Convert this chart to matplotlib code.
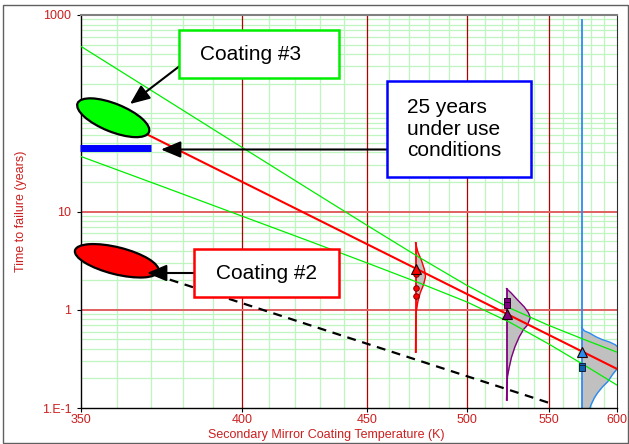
import numpy as np
import matplotlib
matplotlib.use("Agg")
import matplotlib.pyplot as plt
from matplotlib import transforms
from matplotlib.patches import Ellipse, Rectangle
from matplotlib.ticker import FixedLocator, FixedFormatter, NullFormatter

plt.rcParams["font.family"] = ["Liberation Sans", "DejaVu Sans"]

# -------------------------
# data
# -------------------------
x_ticks = [350, 400, 450, 500, 550, 600]
x_tick_labels = ["350", "400", "450", "500", "550", "600"]
y_ticks = [0.1, 1, 10, 1000]
y_tick_labels = ["1.E-1", "1", "10", "1000"]

# Arrhenius fit (red) and its confidence band (green)
fit_temp = [350, 600]
fit_years = [132, 0.25]
band_temp = [350, 375, 400, 425, 450, 475, 500, 525, 550, 575, 600]
band_upper = [479, 136, 45.1, 17.1, 7.25, 3.40, 1.77, 1.04, 0.693, 0.497, 0.370]
band_lower = [36.3, 17.3, 8.99, 5.05, 3.00, 1.87, 1.20, 0.745, 0.448, 0.273, 0.171]

# Coating #2 extrapolation (dashed)
c2_temp = [350, 550]
c2_years = [3.98, 0.113]

# 25 year requirement bar
req_temp = [349.7, 370]
req_years = [44, 44]

# stress levels: median life and failures
stress_temp = [473, 523, 573]
median_years = [2.6, 0.9, 0.37]
fail_473 = [2.32, 1.67, 1.39]
fail_523 = [1.24, 1.12]
fail_573 = [0.27, 0.255]

# life distributions at each stress level (years, density)
pdf_473_years = [4.81, 3.89, 3.23, 2.55, 2.17, 1.80, 1.49, 1.21, 0.95, 0.70, 0.37]
pdf_473_dens = [0, 2.3, 5.7, 9, 10, 8, 4.7, 2.3, 0.7, 0.2, 0]
pdf_523_years = [1.64, 1.49, 1.26, 1.07, 0.93, 0.83, 0.70, 0.63, 0.53, 0.42,
                 0.33, 0.26, 0.21, 0.165, 0.121]
pdf_523_dens = [0, 4.4, 11, 17.7, 22, 23.7, 21, 17, 12.7, 8.4, 5, 2.7, 1, 0.4, 0]
pdf_573_years = [0.66, 0.61, 0.58, 0.53, 0.495, 0.47, 0.44, 0.39, 0.325, 0.27,
                 0.22, 0.185, 0.165, 0.143, 0.127, 0.108, 0.0855, 0.0676]
pdf_573_dens = [0, 2.7, 7.7, 14.4, 21, 27.7, 33.7, 39, 42, 38, 31, 26, 21, 16,
                12.7, 9.4, 6, 3.5]
line_473_years = [4.81, 0.37]
line_523_years = [1.64, 0.121]
line_573_years = [880, 0.05]

# predicted use-condition life of each coating
c3_point = (359, 90)
c2_point = (360, 3.15)

RED_TXT = "#cc1f1f"
GREEN = "#00ee00"

# -------------------------
# figure / axes
# -------------------------
W, H = 629, 444
fig = plt.figure(figsize=(W / 100, H / 100), dpi=100)
ax = fig.add_axes([81 / W, 36 / H, 536 / W, 393 / H])

ax.set_xscale("function", functions=(lambda t: -1.0 / t, lambda u: -1.0 / u))
ax.set_yscale("log")
ax.set_xlim(350, 600)
ax.set_ylim(0.1, 1000)

ax.xaxis.set_major_locator(FixedLocator(x_ticks))
ax.xaxis.set_major_formatter(FixedFormatter(x_tick_labels))
ax.xaxis.set_minor_locator(FixedLocator([]))
ax.yaxis.set_major_locator(FixedLocator(y_ticks))
ax.yaxis.set_major_formatter(FixedFormatter(y_tick_labels))
ax.yaxis.set_minor_locator(FixedLocator([]))
ax.yaxis.set_minor_formatter(NullFormatter())
ax.tick_params(axis="both", colors="black", labelcolor=RED_TXT, labelsize=9,
               length=3, width=0.8)
ax.tick_params(axis="x", pad=1.5)
ax.tick_params(axis="y", pad=4)

# gridlines
x_minor = [t for t in range(360, 600, 10) if t % 50 != 0]
y_minor = [k * 10.0 ** e for e in range(-1, 3) for k in range(2, 10)] + [100]
for t in x_minor:
    ax.axvline(t, color="#bff5bf", lw=0.9, zorder=0.5)
for v in y_minor:
    ax.axhline(v, color="#bff5bf", lw=0.9, zorder=0.5)
for t in [400, 450, 500, 550]:
    ax.axvline(t, color="#b00000", lw=0.9, zorder=0.6)
for v in [1, 10]:
    ax.axhline(v, color="#e06060", lw=1.4, zorder=0.6)

for side in ["left", "bottom"]:
    ax.spines[side].set_color("black")
    ax.spines[side].set_linewidth(1.0)
ax.spines["top"].set_color("#808080")
ax.spines["top"].set_linewidth(1.5)
ax.spines["right"].set_color("#303030")

# -------------------------
# fit, band, extrapolation
# -------------------------
ax.plot(band_temp, band_upper, color=GREEN, lw=0.9, zorder=3)
ax.plot(band_temp, band_lower, color=GREEN, lw=0.9, zorder=3)
ax.plot(fit_temp, fit_years, color="#ff0000", lw=1.5, zorder=4)
ax.plot(c2_temp, c2_years, color="black", lw=1.6, ls=(0, (4, 3)), zorder=4)

# -------------------------
# life distributions
# -------------------------
ax_px = ax.get_position().width * W
k = (1 / 350 - 1 / 600) / ax_px


def pdf_temp(t0, dens):
    return 1.0 / (1.0 / t0 - np.asarray(dens) * k)


dists = [
    (stress_temp[0], pdf_473_years, pdf_473_dens, line_473_years, "#ff0000"),
    (stress_temp[1], pdf_523_years, pdf_523_dens, line_523_years, "#800080"),
    (stress_temp[2], pdf_573_years, pdf_573_dens, line_573_years, "#2a8cf0"),
]
for t0, yrs, dens, line_yrs, col in dists:
    tc = pdf_temp(t0, dens)
    ax.fill_betweenx(yrs, t0, tc, color="#c0c0c0", lw=0, zorder=2)
    ax.plot(tc, yrs, color=col, lw=1.0, zorder=2.5)
    ax.plot([t0, t0], line_yrs, color=col, lw=1.3, zorder=2.5)

# markers
ax.plot(stress_temp[0:1] * 3, fail_473, "o", ms=4, mfc="#ff0000", mec="#800000",
        mew=0.7, zorder=5)
ax.plot(stress_temp[1:2] * 2, fail_523, "s", ms=4, mfc="#800080", mec="#300030",
        mew=0.7, zorder=5)
ax.plot(stress_temp[2:3] * 2, fail_573, "s", ms=4, mfc="#1060b0", mec="#102040",
        mew=0.7, zorder=5)
for t0, m, col in zip(stress_temp, median_years, ["#ff0000", "#800080", "#2a8cf0"]):
    ax.plot([t0], [m], "^", ms=7, mfc=col, mec="#200000", mew=0.8, zorder=6)

# -------------------------
# coating ellipses and requirement bar
# -------------------------
for (t, v), col, w, h, ang in [(c3_point, "#00ff00", 0.77, 0.28, -22),
                                (c2_point, "#ff0000", 0.86, 0.27, -14)]:
    tr = fig.dpi_scale_trans + transforms.ScaledTranslation(t, v, ax.transData)
    ax.add_patch(Ellipse((0, 0), w, h, angle=ang, transform=tr, facecolor=col,
                         edgecolor="black", lw=1.6, zorder=7, clip_on=False))

ax.plot(req_temp, req_years, color="#0000ff", lw=5, solid_capstyle="butt",
        zorder=7, clip_on=False)

# -------------------------
# callout boxes and arrows
# -------------------------
def box(x0, y0, x1, y1, col):
    fig.add_artist(Rectangle((x0 / 100, (H - y1) / 100), (x1 - x0) / 100,
                             (y1 - y0) / 100, transform=fig.dpi_scale_trans,
                             facecolor="white", edgecolor=col, lw=1.8, zorder=8))


box(179, 30, 339, 78, "#00ee00")
fig.text(251 / W, 1 - 54 / H, "Coating #3", fontsize=15, ha="center",
         va="center", zorder=9)
box(387, 81, 531, 177, "#0000ff")
fig.text(407 / W, 1 - 129 / H, "25 years\nunder use\nconditions", fontsize=15,
         ha="left", va="center", linespacing=1.15, zorder=9)
box(194, 249, 339, 297, "#ff0000")
fig.text(266 / W, 1 - 273 / H, "Coating #2", fontsize=15, ha="center",
         va="center", zorder=9)

arrow = dict(arrowstyle="-|>,head_length=1.0,head_width=0.42", color="black",
             lw=1.5, mutation_scale=12, shrinkA=0, shrinkB=0)
for (x0, y0), (x1, y1) in [((181, 65), (130, 104)),
                           ((387, 149.5), (161, 149.5)),
                           ((194, 273), (147, 273))]:
    ax.annotate("", xy=(x1, H - y1), xycoords="figure pixels",
                xytext=(x0, H - y0), textcoords="figure pixels",
                arrowprops=arrow, zorder=9)

# -------------------------
# labels and frame
# -------------------------
ax.set_xlabel("Secondary Mirror Coating Temperature (K)", color=RED_TXT,
              fontsize=9, va="center")
ax.xaxis.set_label_coords((326.5 - 81) / 536, (408 - 435) / 393)
ax.set_ylabel("Time to failure (years)", color=RED_TXT, fontsize=9,
              va="center")
ax.yaxis.set_label_coords((21 - 81) / 536, 0.5)

fig.add_artist(Rectangle((3 / W, 1 / H), 625 / W, 438 / H,
                         transform=fig.transFigure, fill=False,
                         edgecolor="#606060", lw=1.0))

fig.savefig("out.png", dpi=100)
